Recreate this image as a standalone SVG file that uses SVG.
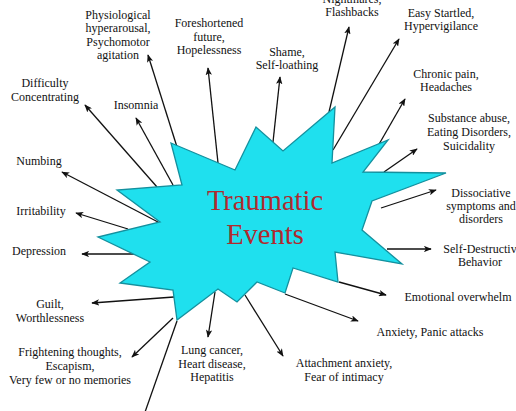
<svg xmlns="http://www.w3.org/2000/svg" width="516" height="411" viewBox="0 0 516 411">
<style>
.lbl{font-family:"Liberation Serif","Times New Roman",serif;font-size:12px;fill:#111;text-anchor:middle}
.con{stroke:#111;stroke-width:1.3;fill:none}
.arr{marker-end:url(#ah)}
.title{font-family:"Liberation Serif","Times New Roman",serif;font-size:28.5px;fill:#B02A2E;text-anchor:middle}
</style>
<defs>
<marker id="ah" viewBox="0 0 10 8" refX="9" refY="4" markerWidth="8" markerHeight="6.4" markerUnits="userSpaceOnUse" orient="auto">
<path d="M0,0 L10,4 L0,8 L2.5,4 z" fill="#111"/>
</marker>
</defs>
<rect width="516" height="411" fill="#fff"/>
<g id="connectors">
<line class="con arr" x1="177" y1="147" x2="148" y2="55"/>
<line class="con arr" x1="218" y1="163" x2="208" y2="68"/>
<line class="con arr" x1="273" y1="142" x2="280" y2="77"/>
<line class="con arr" x1="329" y1="112" x2="349" y2="27"/>
<line class="con arr" x1="333" y1="150" x2="399" y2="39"/>
<line class="con arr" x1="378" y1="146" x2="405" y2="99"/>
<line class="con arr" x1="384" y1="172" x2="417" y2="149"/>
<line class="con arr" x1="381" y1="208" x2="436" y2="190"/>
<line class="con arr" x1="387" y1="249" x2="431" y2="249"/>
<line class="con arr" x1="339" y1="282" x2="386" y2="295"/>
<line class="con arr" x1="285" y1="294" x2="358" y2="321"/>
<line class="con arr" x1="245" y1="295" x2="283" y2="356"/>
<line class="con arr" x1="215" y1="292" x2="208" y2="337"/>
<line class="con" x1="177" y1="321" x2="144" y2="415"/>
<line class="con arr" x1="173" y1="318" x2="132" y2="357"/>
<line class="con arr" x1="174" y1="297" x2="92" y2="303"/>
<line class="con arr" x1="137" y1="254" x2="82" y2="254"/>
<line class="con arr" x1="128" y1="229" x2="76" y2="213"/>
<line class="con arr" x1="158" y1="222" x2="62" y2="172"/>
<line class="con arr" x1="157" y1="187" x2="85" y2="105"/>
<line class="con arr" x1="173" y1="185" x2="136" y2="118"/>
</g>
<g id="traumatic-events">
<polygon points="171,143 235,170 256,127 283,151 335,107 332,163 388,140 363,172 446,173 372,201 362,230 402,264 335,252 338,282 293,268 285,293 257,282 237,302 218,289 177,320 173,290 120,283 150,262 98,237 160,222 117,190 182,185" fill="#1FE0EE" stroke="#14909E" stroke-width="1.3" stroke-linejoin="miter"/>
<text class="title" x="265" y="210">Traumatic</text>
<text class="title" x="265" y="244">Events</text>
</g>
<g id="physiological"><text class="lbl" x="118" y="19">Physiological</text><text class="lbl" x="118" y="32">hyperarousal,</text><text class="lbl" x="118" y="45.5">Psychomotor</text><text class="lbl" x="118" y="58.5">agitation</text></g>
<g id="foreshortened"><text class="lbl" x="209" y="27">Foreshortened</text><text class="lbl" x="209" y="40.5">future,</text><text class="lbl" x="209" y="54">Hopelessness</text></g>
<g id="shame"><text class="lbl" x="287" y="56">Shame,</text><text class="lbl" x="287" y="69">Self-loathing</text></g>
<g id="nightmares"><text class="lbl" x="352" y="3">Nightmares,</text><text class="lbl" x="352" y="16">Flashbacks</text></g>
<g id="easy-startled"><text class="lbl" x="441" y="17">Easy Startled,</text><text class="lbl" x="441" y="30">Hypervigilance</text></g>
<g id="chronic-pain"><text class="lbl" x="446" y="78">Chronic pain,</text><text class="lbl" x="446" y="91">Headaches</text></g>
<g id="substance"><text class="lbl" x="469" y="122">Substance abuse,</text><text class="lbl" x="469" y="136">Eating Disorders,</text><text class="lbl" x="469" y="150">Suicidality</text></g>
<g id="dissociative"><text class="lbl" x="481" y="197">Dissociative</text><text class="lbl" x="481" y="210">symptoms and</text><text class="lbl" x="481" y="223">disorders</text></g>
<g id="self-destructive"><text class="lbl" x="480" y="253">Self-Destructiv</text><text class="lbl" x="480" y="266">Behavior</text></g>
<g id="emotional"><text class="lbl" x="458" y="301">Emotional overwhelm</text></g>
<g id="anxiety"><text class="lbl" x="430" y="336">Anxiety, Panic attacks</text></g>
<g id="attachment"><text class="lbl" x="344" y="367">Attachment anxiety,</text><text class="lbl" x="344" y="381">Fear of intimacy</text></g>
<g id="lung-cancer"><text class="lbl" x="212" y="354">Lung cancer,</text><text class="lbl" x="212" y="368">Heart disease,</text><text class="lbl" x="212" y="381">Hepatitis</text></g>
<g id="frightening"><text class="lbl" x="70" y="356">Frightening thoughts,</text><text class="lbl" x="70" y="370">Escapism,</text><text class="lbl" x="70" y="384">Very few or no memories</text></g>
<g id="guilt"><text class="lbl" x="50" y="308">Guilt,</text><text class="lbl" x="50" y="322">Worthlessness</text></g>
<g id="depression"><text class="lbl" x="39" y="255">Depression</text></g>
<g id="irritability"><text class="lbl" x="41" y="215">Irritability</text></g>
<g id="numbing"><text class="lbl" x="39" y="165">Numbing</text></g>
<g id="difficulty"><text class="lbl" x="45" y="87">Difficulty</text><text class="lbl" x="45" y="101">Concentrating</text></g>
<g id="insomnia"><text class="lbl" x="136" y="109">Insomnia</text></g>
</svg>
